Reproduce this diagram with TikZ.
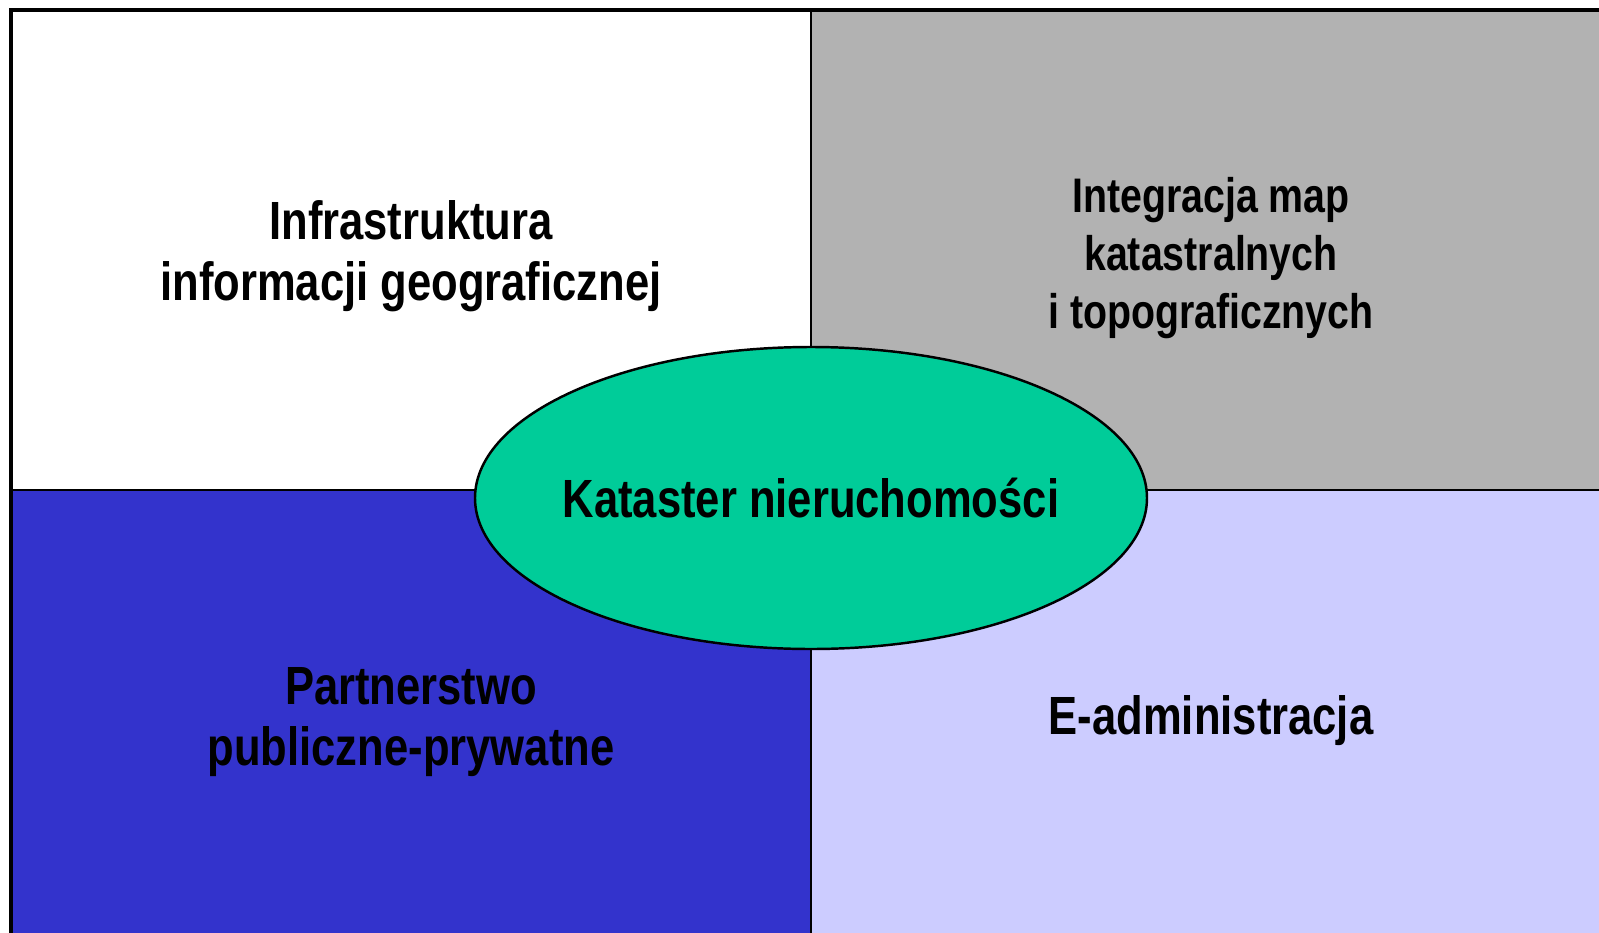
\documentclass[tikz,border=0pt]{standalone}
\usepackage{fontspec}
\setmainfont[FakeStretch=0.81]{Liberation Sans}
\definecolor{GreyPanel}{HTML}{B2B2B2}
\definecolor{BluePanel}{HTML}{3333CC}
\definecolor{LilacPanel}{HTML}{CCCCFF}
\definecolor{GreenCore}{HTML}{00CC99}
\tikzset{panel/.style={draw=black, line width=0.7pt},
	label/.style={align=center, font=\bfseries\fontsize{15.3}{17.2}\selectfont},
	smalllabel/.style={align=center, font=\bfseries\fontsize{13.8}{16.4}\selectfont}}

\begin{document}
\begin{tikzpicture}[x=0.01cm, y=-0.01cm]
	\useasboundingbox (0,0) rectangle (1599,933);
	\clip (0,0) rectangle (1599,933);
	\draw[panel, fill=white] (11,10) rectangle (811,490);
	\draw[panel, fill=GreyPanel] (811,10) rectangle (1640,490);
	\draw[panel, fill=BluePanel] (11,490) rectangle (811,960);
	\draw[panel, fill=LilacPanel] (811,490) rectangle (1640,960);
	\draw[line width=1.2pt] (11,960) -- (11,10) -- (1640,10);
	\node[label] (infra) at (411,256) {Infrastruktura\\informacji geograficznej};
	\node[smalllabel] (integ) at (1211,258) {Integracja map\\katastralnych\\i topograficznych};
	\node[label] (partner) at (411,722) {Partnerstwo\\publiczne-prywatne};
	\node[label] (eadmin) at (1211,721) {E-administracja};
	\draw[line width=0.7pt, fill=GreenCore] (811,498) ellipse [x radius=336, y radius=151];
	\node[label] (kataster) at (811,498) {Kataster nieruchomości};
\end{tikzpicture}
\end{document}
